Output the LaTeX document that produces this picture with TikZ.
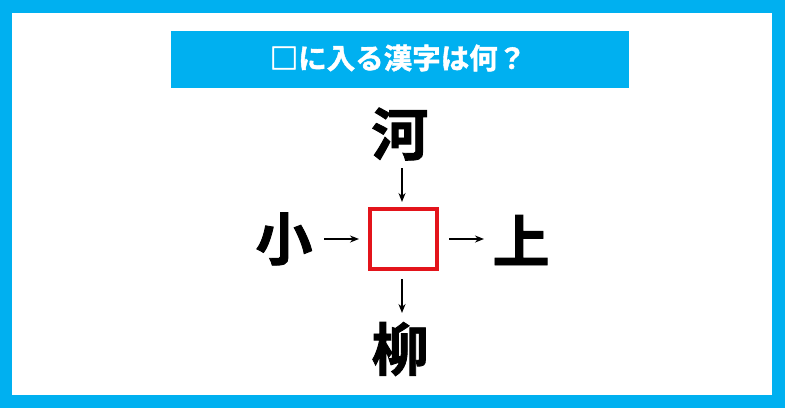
\documentclass[tikz,border=0pt]{standalone}
\usepackage{fontspec}
\newfontfamily\jpbold[FakeBold=1.5]{Noto Sans CJK JP Bold}
\definecolor{frameblue}{HTML}{00B0F0}
\definecolor{boxred}{HTML}{E3141B}
\usetikzlibrary{positioning, arrows.meta}
\tikzset{
  kanji/.style={font=\jpbold\fontsize{57pt}{57pt}\selectfont, inner sep=0pt},
  link/.style={-{Stealth[length=9pt, width=7pt]}, line width=1.5pt}
}
\begin{document}
\begin{tikzpicture}[x=1pt, y=-1pt]
        % Frame and background
        \useasboundingbox (0,0) rectangle (785,408);
        \fill[frameblue] (0,0) rectangle (785,408);
        \fill[white] (12,13) rectangle (772,395);

        % Title banner
        \fill[frameblue] (171,31) rectangle (629,88);
        \node[text=white, font=\jpbold\fontsize{28.5pt}{28.5pt}\selectfont] (title) at (398,58) {□に入る漢字は何？};

        % Empty box and the four kanji
        \node[draw=boxred, line width=3.5pt, minimum width=67pt, minimum height=60pt] (blank) at (403.5,239) {};
        \node[kanji] (top) at (400,134) {河};
        \node[kanji] (left) at (284,239) {小};
        \node[kanji] (right) at (521,240) {上};
        \node[kanji] (bottom) at (400,349) {柳};

        % Arrows
        \coordinate (t0) at (402,168);
        \coordinate (t1) at (402,202);
        \coordinate (l0) at (324,239);
        \coordinate (l1) at (359,239);
        \coordinate (r0) at (449,239);
        \coordinate (r1) at (484,239);
        \coordinate (b0) at (402,279);
        \coordinate (b1) at (402,313);
        \draw[link] (t0) -- (t1);
        \draw[link] (l0) -- (l1);
        \draw[link] (r0) -- (r1);
        \draw[link] (b0) -- (b1);
\end{tikzpicture}
\end{document}
